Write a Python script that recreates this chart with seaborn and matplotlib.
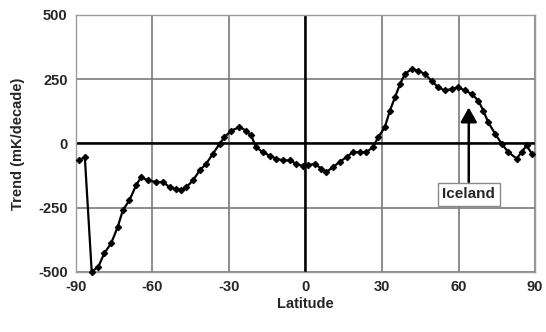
import matplotlib
matplotlib.use("Agg")
import matplotlib.pyplot as plt
import seaborn as sns
import pandas as pd

latitude = [-88.8, -86.5, -83.8, -81.2, -78.9, -76.2, -73.6, -71.6, -69.0, -66.4,
            -64.4, -61.8, -58.5, -55.9, -53.3, -50.8, -48.7, -46.7, -44.1, -41.5,
            -38.9, -36.3, -33.6, -31.8, -29.1, -25.9, -23.3, -21.3, -19.4, -16.8,
            -14.1, -11.5, -8.9, -6.2, -3.6, -1.0, 1.0, 3.6, 6.2, 8.2,
            10.8, 13.4, 16.1, 18.6, 21.3, 23.9, 26.5, 28.5, 31.1, 33.1,
            35.1, 37.1, 39.0, 41.6, 44.2, 46.8, 49.4, 52.0, 54.7, 57.3,
            59.9, 62.5, 65.1, 67.7, 69.7, 71.6, 74.3, 76.9, 79.5, 82.8,
            84.7, 86.7, 88.7]
trend = [-66, -53, -499, -480, -428, -389, -325, -260, -221, -163,
         -131, -144, -150, -150, -170, -178, -182, -170, -144, -105,
         -79, -40, -1, 24, 50, 63, 50, 31, -14, -34,
         -47, -59, -66, -66, -79, -89, -85, -79, -98, -111,
         -92, -72, -53, -34, -34, -34, -14, 24, 63, 128,
         180, 232, 270, 290, 283, 270, 244, 218, 206, 212,
         218, 206, 193, 167, 128, 83, 38, -1, -34, -59,
         -34, -8, -40]

df = pd.DataFrame({"Latitude": latitude, "Trend": trend})

sns.set_style("white")
plt.rcParams["font.family"] = ["Liberation Sans", "DejaVu Sans"]
plt.rcParams["font.weight"] = "bold"
plt.rcParams["axes.unicode_minus"] = False

fig = plt.figure(figsize=(5.46, 3.32), dpi=100)
ax = fig.add_axes([0.139, 0.181, 0.841, 0.774])

ax.grid(True, color="#7a7a7a", linewidth=1.2)
ax.set_axisbelow(True)
ax.axhline(0, color="black", linewidth=1.8, zorder=2)
ax.axvline(0, color="black", linewidth=1.8, zorder=2)

sns.lineplot(data=df, x="Latitude", y="Trend", ax=ax, color="black",
             linewidth=1.6, marker="D", markersize=3.3, markeredgecolor="black",
             zorder=3, clip_on=False)

ax.set_xlim(-90, 90)
ax.set_ylim(-500, 500)
ax.set_xticks([-90, -60, -30, 0, 30, 60, 90])
ax.set_yticks([-500, -250, 0, 250, 500])
ax.tick_params(length=0, labelsize=10.5, pad=6)
for lab in ax.get_xticklabels() + ax.get_yticklabels():
    lab.set_fontweight("bold")
ax.set_xlabel("Latitude", fontsize=10.5, fontweight="bold", labelpad=2)
ax.set_ylabel("Trend (mK/decade)", fontsize=10.5, fontweight="bold", labelpad=9)
for s in ax.spines.values():
    s.set_color("#9a9a9a")
    s.set_linewidth(1.0)

ax.annotate("Iceland", xy=(64, 140), xytext=(64, -198),
            ha="center", va="center", fontsize=11, fontweight="bold",
            bbox=dict(boxstyle="square,pad=0.3", fc="white", ec="#8a8a8a", lw=1),
            arrowprops=dict(arrowstyle="-|>,head_length=0.8,head_width=0.45",
                            color="black", lw=1.8, shrinkA=0, shrinkB=0),
            zorder=4)

fig.savefig("out.png", dpi=100)
